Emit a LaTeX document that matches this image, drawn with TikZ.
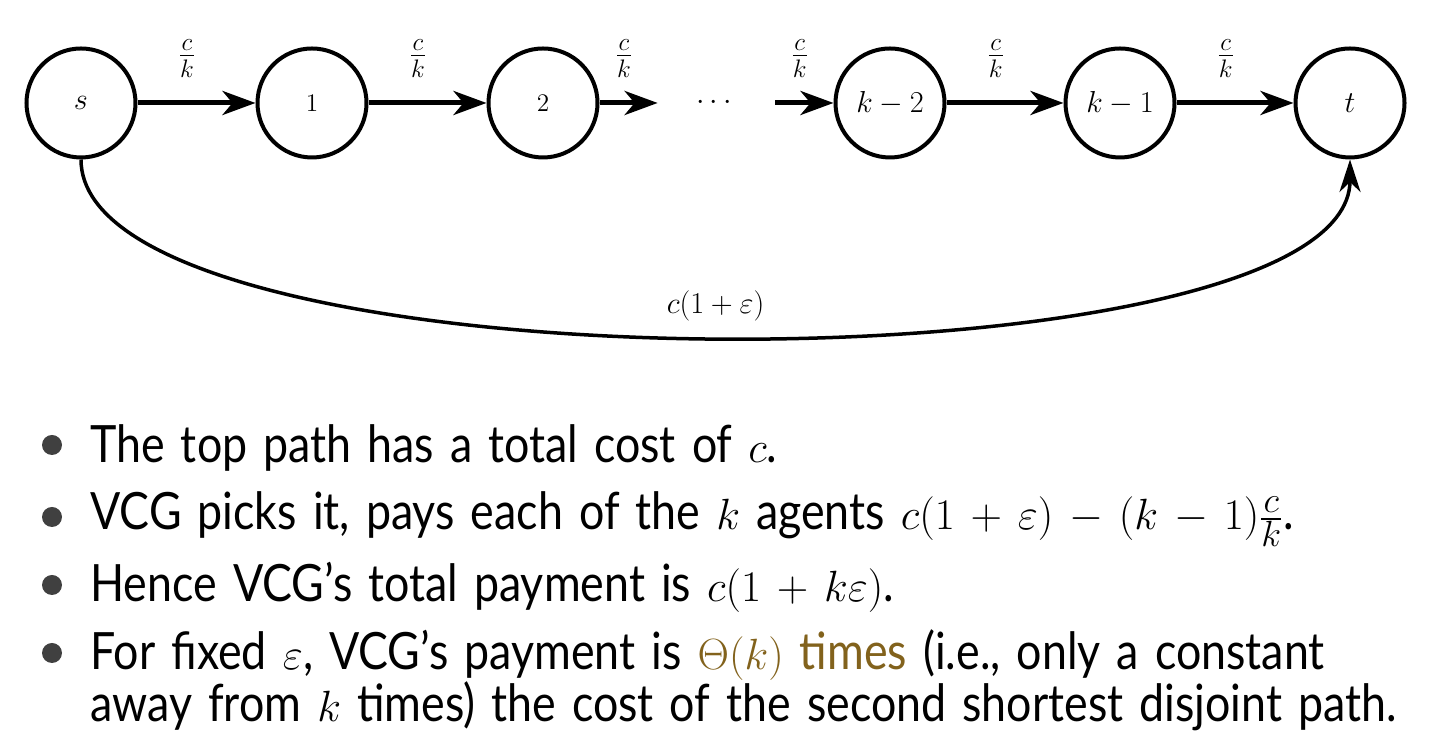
\documentclass[tikz,border=0pt]{standalone}
\usepackage{fontspec}
\usepackage{amsmath}
\usetikzlibrary{arrows.meta}
\newfontfamily\bodyfont{Lato}[Scale=1.009, FakeStretch=0.87, WordSpace=1.4]
\newcommand\widemath{\medmuskip=6.5mu plus 2mu minus 4mu\relax}
\definecolor{thetabrown}{RGB}{130,98,28}
\definecolor{bulletgray}{RGB}{64,64,64}

\begin{document}
\begin{tikzpicture}[
        vertex/.style={
            circle,
            draw=black,
            line width=0.8mm,
            minimum size=21.8mm,
            inner sep=0pt
        },
        hop/.style={line width=1mm, -{Stealth[length=6.6mm, width=4.8mm, inset=2mm]}},
        cost/.style={above=3.5mm, pos=0.42, font=\fontsize{21}{25}\selectfont},
        detour/.style={line width=0.7mm, -{Stealth[length=6.5mm, width=4.2mm, inset=2mm]}},
        bulletdot/.style={circle, fill=bulletgray, minimum size=4mm, inner sep=0pt},
        bulletline/.style={anchor=base west, inner sep=0pt,
            font=\bodyfont\fontsize{29}{35}\selectfont\widemath}
    ]
        \fill[white] (0,0) rectangle (28.82,15.08);

        % Cammino in alto: s, 1, 2, ..., k-2, k-1, t
        \foreach \name/\lbl/\x/\fs in {s/s/1.62/19, n1/1/6.24/14, n2/2/10.86/14, nk2/k-2/17.8/19, nk1/k-1/22.4/19, t/t/27.0/19} {
            \node[vertex, font=\fontsize{\fs}{\fs}\selectfont] (\name) at (\x,13.02) {$\lbl$};
        }
        \node[minimum width=23.4mm, inner sep=0pt, font=\fontsize{19}{23}\selectfont] (dots) at (14.33,13.02) {$\cdots$};

        % Archi con costo c/k
        \foreach \a/\b in {s/n1, n1/n2, n2/dots, dots/nk2, nk2/nk1, nk1/t} {
            \draw[hop] (\a) -- node[cost] {$\frac{c}{k}$} (\b);
        }

        % Arco diretto s -> t
        \draw[detour] (s.south) .. controls +(0,-4.72) and +(0,-4.72) .. (t.south)
            node[midway, above=1.5mm, font=\fontsize{18}{22}\selectfont] {$c(1+\varepsilon)$};

        % Elenco puntato
        \node[bulletdot] (b1) at (1.04,6.18) {};
        \node[bulletdot] (b2) at (1.04,4.74) {};
        \node[bulletdot] (b3) at (1.04,3.38) {};
        \node[bulletdot] (b4) at (1.04,2.02) {};
        \node[bulletline] (l1) at (1.8,5.82) {The top path has a total cost of $c$.};
        \node[bulletline] (l2) at (1.8,4.48) {VCG picks it, pays each of the $k$ agents $c(1+\varepsilon)-(k-1)\frac{c}{k}$.};
        \node[bulletline] (l3) at (1.8,3.04) {Hence VCG’s total payment is $c(1+k\varepsilon)$.};
        \node[bulletline] (l4) at (1.8,1.68) {For fixed $\varepsilon$, VCG’s payment is \textcolor{thetabrown}{$\Theta(k)$ times} (i.e., only a constant};
        \node[bulletline] (l5) at (1.8,0.64) {away from $k$ times) the cost of the second shortest disjoint path.};
    \end{tikzpicture}
\end{document}
